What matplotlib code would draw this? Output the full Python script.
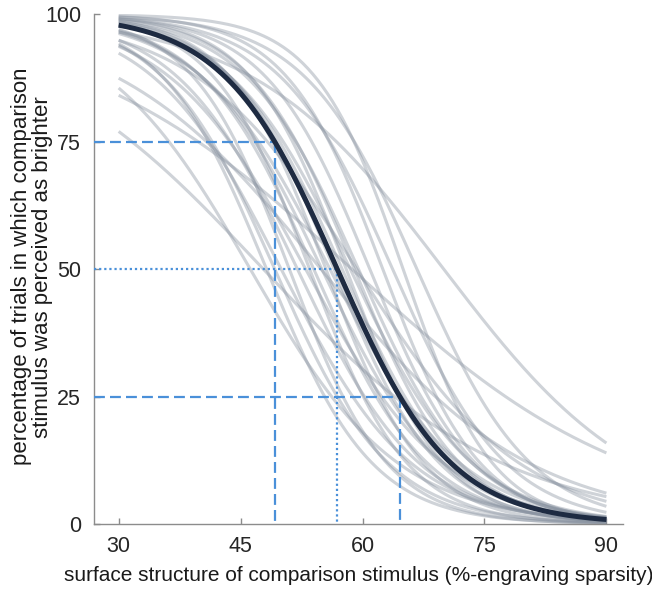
import numpy as np
import matplotlib.pyplot as plt

plt.rcParams['font.family'] = ['Liberation Sans', 'DejaVu Sans']

# fitted psychometric functions (logistic): 50% point and spread per observer
obs_pse = [47.8, 58.7, 46.2, 54.9, 70.0, 59.3,
           48.2, 49.2, 50.0, 51.0, 52.0, 53.0, 53.5, 54.0, 55.0, 55.5, 56.0,
           56.5, 57.5, 58.0, 58.5, 59.0, 59.5, 60.9, 62.5, 63.7, 65.0, 66.7]
obs_slope = [14.7, 17.2, 9.1, 12.8, 12.0, 10.0,
             6.5, 7.0, 8.0, 6.0, 7.5, 8.5, 6.0, 7.0, 7.5, 6.0, 8.0,
             6.5, 7.0, 6.0, 7.5, 6.5, 7.0, 6.5, 6.0, 7.0, 5.5, 7.0]

# group fit
group_pse = 56.9
group_slope = 7.0

# thresholds
thr_levels = [75, 50, 25]
thr_x = [49.2, 56.9, 64.6]
thr_styles = [(0, (4.9, 2.3)), (0, (1, 1.3)), (0, (4.9, 2.3))]

x_ticks = [30, 45, 60, 75, 90]
y_ticks = [0, 25, 50, 75, 100]


def logistic(x, pse, slope):
    return 100.0 / (1.0 + np.exp((x - pse) / slope))


x = np.linspace(30, 90, 300)

fig = plt.figure(figsize=(6.52, 5.91), dpi=100)
ax = fig.add_axes([0.1446, 0.1134, 0.8104, 0.8621])

for pse, slope in zip(obs_pse, obs_slope):
    ax.plot(x, logistic(x, pse, slope), color='#87919f', alpha=0.40, lw=2.2,
            solid_capstyle='butt', zorder=2)

ax.plot(x, logistic(x, group_pse, group_slope), color='#1e2b42', lw=3.6,
        solid_capstyle='butt', zorder=4)

blue = '#4a90d9'
for lev, tx, ls in zip(thr_levels, thr_x, thr_styles):
    ax.plot([27, tx], [lev, lev], color=blue, lw=1.6, linestyle=ls, zorder=3)
    ax.plot([tx, tx], [lev, 0], color=blue, lw=1.6, linestyle=ls, zorder=3)

ax.set_xlim(27, 92)
ax.set_ylim(0, 100)
ax.set_xticks(x_ticks)
ax.set_yticks(y_ticks)
ax.spines['top'].set_visible(False)
ax.spines['right'].set_visible(False)
for s in ['left', 'bottom']:
    ax.spines[s].set_color('#8c8c8c')
    ax.spines[s].set_linewidth(1.0)
ax.tick_params(direction='in', length=4, width=1, color='#8c8c8c',
               labelsize=15.5, labelcolor='#262626')
ax.tick_params(axis='x', pad=9)
ax.tick_params(axis='y', pad=9.5)

ax.set_xlabel('surface structure of comparison stimulus (%-engraving sparsity)',
              fontsize=15, color='#1a1a1a', labelpad=6)
ax.set_ylabel('percentage of trials in which comparison\nstimulus was perceived as brighter',
              fontsize=16, color='#1a1a1a', linespacing=1.0)
ax.yaxis.set_label_coords(-0.078, 0.505)

fig.savefig('out.png', dpi=100)
